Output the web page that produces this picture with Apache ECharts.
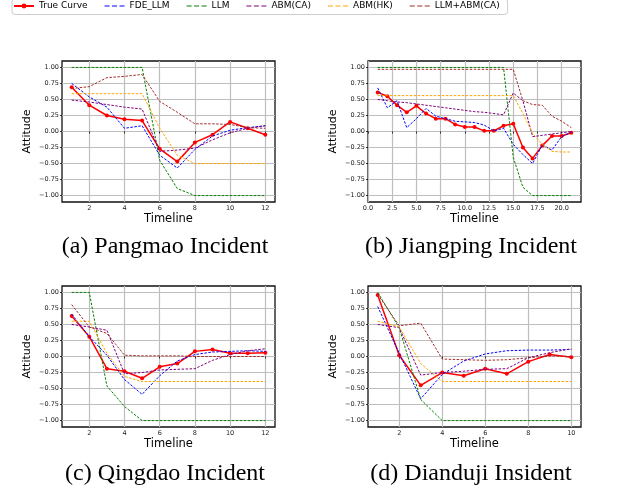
<!DOCTYPE html>
<html><head><meta charset="utf-8">
<script src="https://cdn.jsdelivr.net/npm/echarts@6/dist/echarts.min.js"></script>
<style>html,body{margin:0;padding:0;background:#fff}#c{width:641px;height:492px}</style>
</head><body><div id="c"></div>
<script>
// ---- series names & colours ----
const seriesNames = ['True Curve', 'FDE_LLM', 'LLM', 'ABM(CA)', 'ABM(HK)', 'LLM+ABM(CA)'];
const seriesColors = ['#ff0000', '#0000ff', '#008000', '#800080', '#ffa500', '#a52a2a'];
const panelTitles = ['(a) Pangmao Incident', '(b) Jiangping Incident', '(c) Qingdao Incident', '(d) Dianduji Insident'];

// ---- timelines ----
const timelineA = [1,2,3,4,5,6,7,8,9,10,11,12];
const timelineB = [1,2,3,4,5,6,7,8,9,10,11,12,13,14,15,16,17,18,19,20,21];
const timelineC = [1,2,3,4,5,6,7,8,9,10,11,12];
const timelineD = [1,2,3,4,5,6,7,8,9,10];

// ---- tick labels ----
const yTicks = [-1.0, -0.75, -0.5, -0.25, 0.0, 0.25, 0.5, 0.75, 1.0];
const xTicksA = [2,4,6,8,10,12];
const xTicksB = [0,2.5,5,7.5,10,12.5,15,17.5,20];
const xTicksC = [2,4,6,8,10,12];
const xTicksD = [2,4,6,8,10];

// ---- (a) Pangmao ----
const trueA  = [0.69, 0.41, 0.25, 0.19, 0.17, -0.27, -0.47, -0.17, -0.05, 0.15, 0.05, -0.05];
const fdeA   = [0.75, 0.54, 0.38, 0.05, 0.09, -0.37, -0.57, -0.28, -0.07, 0.02, 0.06, 0.09];
const llmA   = [1, 1, 1, 1, 1, -0.45, -0.89, -1, -1, -1, -1, -1];
const abmCaA = [0.49, 0.46, 0.42, 0.38, 0.35, -0.31, -0.29, -0.26, -0.13, -0.02, 0.05, 0.09];
const abmHkA = [0.59, 0.59, 0.59, 0.59, 0.59, 0.05, -0.37, -0.50, -0.50, -0.50, -0.50, -0.50];
const mixA   = [0.67, 0.70, 0.84, 0.86, 0.89, 0.47, 0.30, 0.12, 0.12, 0.11, 0.06, 0.05];

// ---- (b) Jiangping ----
const trueB  = [0.61, 0.55, 0.41, 0.30, 0.40, 0.28, 0.20, 0.20, 0.11, 0.07, 0.07, 0.01, 0.01, 0.09, 0.12, -0.25, -0.42, -0.22, -0.07, -0.07, -0.02];
const fdeB   = [0.68, 0.37, 0.48, 0.06, 0.20, 0.36, 0.24, 0.20, 0.16, 0.15, 0.14, 0.10, 0.01, 0.05, -0.20, -0.36, -0.50, -0.21, -0.29, -0.08, -0.01];
const llmB   = [1, 1, 1, 1, 1, 1, 1, 1, 1, 1, 1, 1, 1, 1, -0.40, -0.87, -1, -1, -1, -1, -1];
const abmCaB = [0.50, 0.48, 0.46, 0.45, 0.43, 0.41, 0.39, 0.37, 0.35, 0.33, 0.31, 0.30, 0.28, 0.26, 0.60, 0.48, -0.08, -0.06, -0.04, -0.02, 0.00];
const abmHkB = [0.56, 0.56, 0.56, 0.56, 0.56, 0.56, 0.56, 0.56, 0.56, 0.56, 0.56, 0.56, 0.56, 0.56, 0.56, 0.28, -0.03, -0.20, -0.31, -0.32, -0.32];
const mixB   = [0.97, 0.97, 0.97, 0.97, 0.97, 0.97, 0.97, 0.97, 0.97, 0.97, 0.97, 0.97, 0.97, 0.97, 0.97, 0.48, 0.42, 0.41, 0.24, 0.16, 0.06];

// ---- (c) Qingdao ----
const trueC  = [0.63, 0.31, -0.19, -0.23, -0.34, -0.16, -0.11, 0.08, 0.11, 0.05, 0.05, 0.06];
const fdeC   = [0.66, 0.31, 0.02, -0.36, -0.59, -0.30, -0.07, 0.03, 0.07, 0.08, 0.09, 0.08];
const llmC   = [1, 1, -0.46, -0.78, -1, -1, -1, -1, -1, -1, -1, -1];
const abmCaC = [0.50, 0.46, 0.41, -0.27, -0.25, -0.21, -0.20, -0.19, -0.06, 0.03, 0.09, 0.12];
const abmHkC = [0.55, 0.55, 0.05, -0.31, -0.39, -0.39, -0.39, -0.39, -0.39, -0.39, -0.39, -0.39];
const mixC   = [0.81, 0.46, 0.36, 0.02, 0.01, 0.01, 0.01, 0.00, 0.00, 0.00, 0.00, 0.00];

// ---- (d) Dianduji ----
const trueD  = [0.96, 0.02, -0.45, -0.25, -0.30, -0.19, -0.27, -0.08, 0.03, -0.01];
const fdeD   = [0.78, 0.05, -0.66, -0.28, -0.07, 0.04, 0.09, 0.10, 0.10, 0.11];
const llmD   = [1.0, 0.45, -0.67, -1, -1, -1, -1, -1, -1, -1];
const abmCaD = [0.50, 0.45, -0.29, -0.25, -0.23, -0.20, -0.19, -0.02, 0.06, 0.12];
const abmHkD = [0.55, 0.46, -0.11, -0.39, -0.39, -0.39, -0.39, -0.39, -0.39, -0.39];
const mixD   = [0.97, 0.48, 0.52, -0.04, -0.05, -0.06, -0.05, -0.02, 0.01, 0.00];

const panels = [
  {x: timelineA, ys: [trueA, fdeA, llmA, abmCaA, abmHkA, mixA], ticks: xTicksA, min: 0.45, max: 12.55, fmt: v => String(v)},
  {x: timelineB, ys: [trueB, fdeB, llmB, abmCaB, abmHkB, mixB], ticks: xTicksB, min: 0, max: 22, fmt: v => v.toFixed(1)},
  {x: timelineC, ys: [trueC, fdeC, llmC, abmCaC, abmHkC, mixC], ticks: xTicksC, min: 0.45, max: 12.55, fmt: v => String(v)},
  {x: timelineD, ys: [trueD, fdeD, llmD, abmCaD, abmHkD, mixD], ticks: xTicksD, min: 0.55, max: 10.45, fmt: v => String(v)}
];
const gridBoxes = [
  {left: 62, top: 61, width: 213, height: 141},
  {left: 368, top: 61, width: 213, height: 141},
  {left: 62, top: 286, width: 213, height: 141},
  {left: 368, top: 286, width: 213, height: 141}
];
const titlePos = [{x: 165, y: 235}, {x: 471, y: 235}, {x: 165, y: 462}, {x: 471, y: 462}];

const yFmt = v => (v < 0 ? '\u2212' : '') + Math.abs(v).toFixed(2);
const tickFont = {fontSize: 6.5, color: '#222', fontFamily: 'DejaVu Sans'};
const gridLine = {show: true, lineStyle: {color: '#bdbdbd', width: 1.2}};

const grids = [], xAxes = [], yAxes = [], series = [], titles = [];
panels.forEach((p, i) => {
  grids.push(Object.assign({show: true, borderColor: '#111', borderWidth: 1.3, backgroundColor: 'transparent', containLabel: false}, gridBoxes[i]));
  xAxes.push({
    type: 'value', gridIndex: i, min: p.min, max: p.max,
    name: 'Timeline', nameLocation: 'middle', nameGap: 9,
    nameTextStyle: {fontSize: 11.5, fontFamily: 'DejaVu Sans', color: '#000'},
    axisLine: {show: false},
    axisTick: {show: true, length: 2, customValues: p.ticks, lineStyle: {color: '#000', width: 0.8}},
    axisLabel: Object.assign({customValues: p.ticks, formatter: p.fmt, margin: 3}, tickFont),
    splitLine: gridLine
  });
  yAxes.push({
    type: 'value', gridIndex: i, min: -1.1, max: 1.1,
    name: 'Attitude', nameLocation: 'middle', nameGap: 29, nameRotate: 90,
    nameTextStyle: {fontSize: 11, fontFamily: 'DejaVu Sans', color: '#000'},
    axisLine: {show: false},
    axisTick: {show: true, length: 2, customValues: yTicks, lineStyle: {color: '#000', width: 0.8}},
    axisLabel: Object.assign({customValues: yTicks, formatter: yFmt, margin: 3}, tickFont),
    splitLine: gridLine
  });
  p.ys.forEach((ys, k) => {
    const isTrue = k === 0;
    series.push({
      type: 'line', name: seriesNames[k], xAxisIndex: i, yAxisIndex: i,
      data: p.x.map((xv, j) => [xv, ys[j]]),
      symbol: isTrue ? 'circle' : 'none', symbolSize: 4, showSymbol: isTrue,
      itemStyle: {color: seriesColors[k]},
      lineStyle: {color: seriesColors[k], width: isTrue ? 1.5 : 1, type: isTrue ? 'solid' : [2.5, 1.5]},
      animation: false, silent: true, z: 2 + k
    });
  });
  titles.push({
    text: panelTitles[i], left: titlePos[i].x, top: titlePos[i].y, textAlign: 'center', padding: 0,
    textStyle: {fontFamily: 'Liberation Serif', fontSize: 24, fontWeight: 'normal', color: '#000'}
  });
});

const dashIcon = 'path://M0,0h5v1.2h-5z M7.5,0h5v1.2h-5z M15,0h5v1.2h-5z';
const legendData = seriesNames.map((n, k) => k === 0 ? {name: n} : {name: n, icon: dashIcon});

const chart = echarts.init(document.getElementById('c'), null, {renderer: 'canvas'});
chart.setOption({
  animation: false,
  backgroundColor: '#fff',
  title: titles,
  legend: {
    data: legendData, left: 12, top: -1, padding: [2.5, 8, 4, 1], itemGap: 17,
    itemWidth: 20, itemHeight: 6,
    textStyle: {fontSize: 9, fontFamily: 'DejaVu Sans', color: '#000'},
    borderColor: '#ccc', borderWidth: 1, borderRadius: 3, selectedMode: false
  },
  grid: grids, xAxis: xAxes, yAxis: yAxes, series: series
});
</script></body></html>
